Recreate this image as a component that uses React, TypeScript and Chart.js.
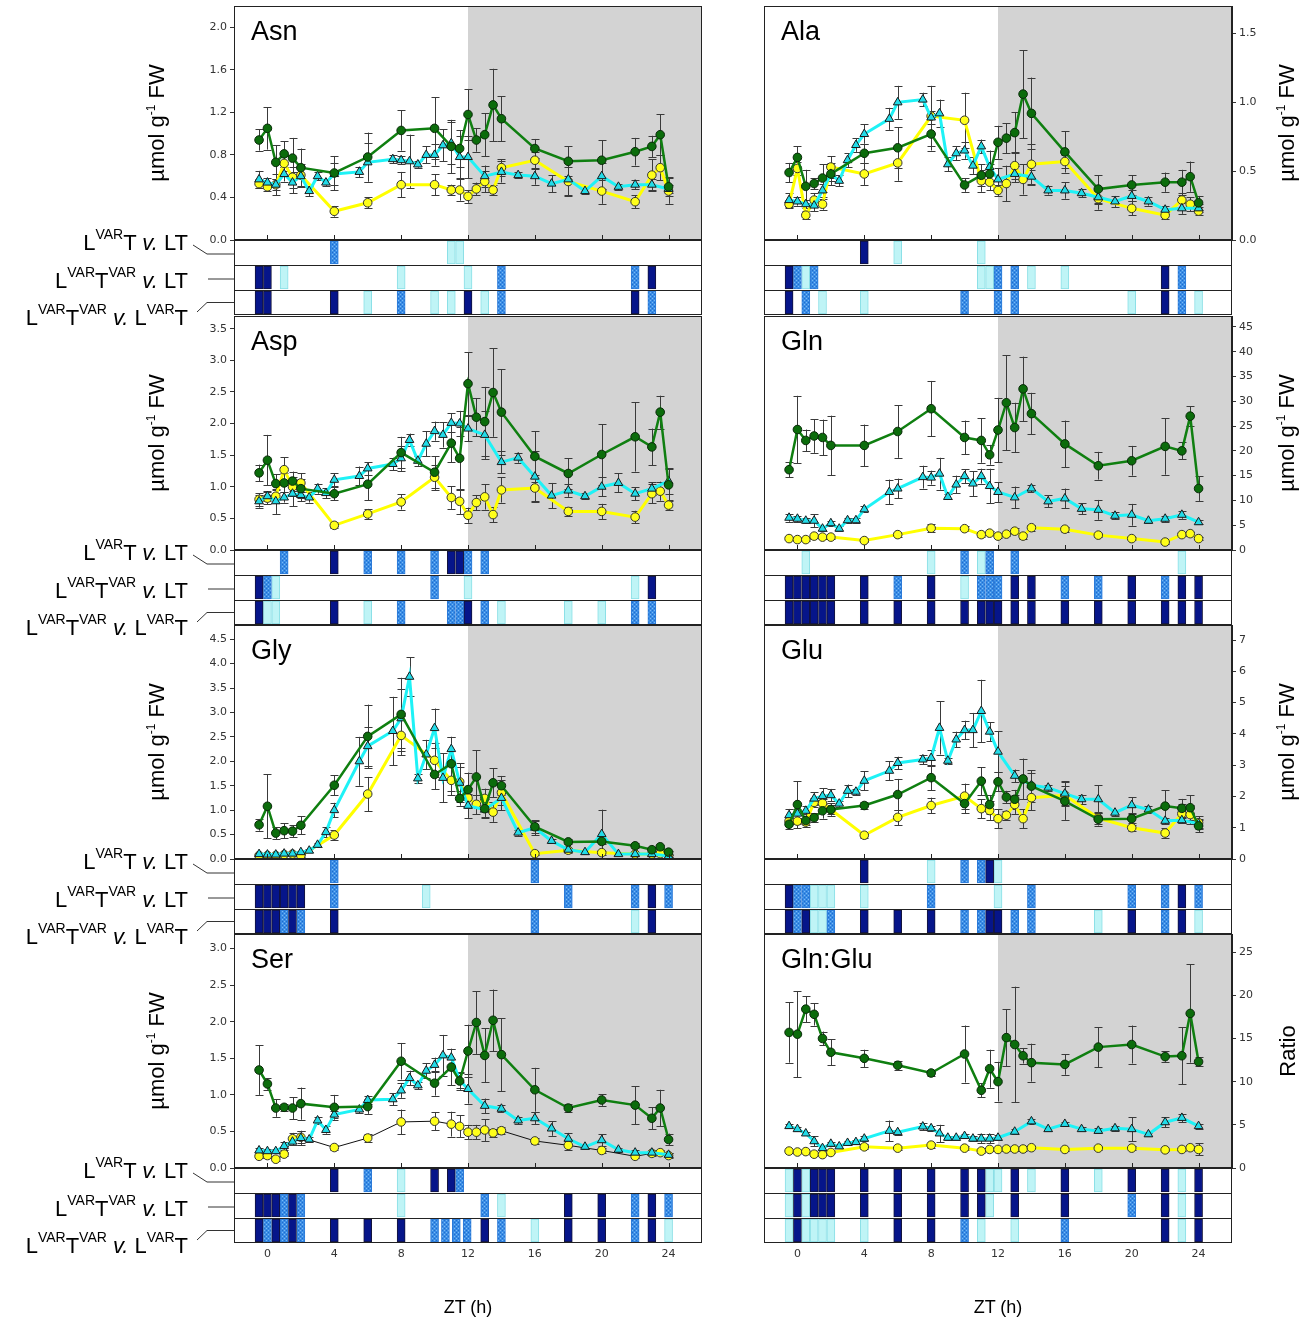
import React, { useEffect, useRef } from 'react';
import { Chart, registerables } from 'chart.js';

Chart.register(...registerables);

// ---------------- axes ----------------
const X_MIN = -2;
const X_MAX = 26;
const X_TICKS = [0, 4, 8, 12, 16, 20, 24];
const NIGHT_START = 12;

// sampling times (h, ZT)
const T_G = [-0.5, 0, 0.5, 1, 1.5, 2, 4, 6, 8, 10, 11, 11.5, 12, 12.5, 13, 13.5, 14, 16, 18, 20, 22, 23, 23.5, 24];
const T_C = [-0.5, 0, 0.5, 1, 1.5, 2, 2.5, 3, 3.5, 4, 5.5, 6, 7.5, 8, 8.5, 9, 9.5, 10, 10.5, 11, 11.5, 12, 13, 14, 15, 16, 17, 18, 19, 20, 21, 22, 23, 24];

// ---------------- Asn ----------------
const ASN_TICKS = [0, 0.4, 0.8, 1.2, 1.6, 2.0];
const ASN_G = [0.94, 1.05, 0.73, 0.81, 0.77, 0.68, 0.63, 0.78, 1.03, 1.05, 0.88, 0.86, 1.18, 0.94, 0.99, 1.27, 1.14, 0.86, 0.74, 0.75, 0.83, 0.88, 0.99, 0.50];
const ASN_G_E = [0.1, 0.2, 0.16, 0.12, 0.19, 0.18, 0.16, 0.23, 0.19, 0.29, 0.25, 0.17, 0.24, 0.11, 0.2, 0.34, 0.21, 0.09, 0.14, 0.19, 0.13, 0.1, 0.19, 0.09];
const ASN_Y = [0.53, 0.50, 0.52, 0.72, 0.59, 0.61, 0.27, 0.35, 0.52, 0.52, 0.47, 0.47, 0.41, 0.48, 0.55, 0.47, 0.68, 0.75, 0.55, 0.46, 0.36, 0.61, 0.68, 0.46];
const ASN_Y_E = [0.04, 0.04, 0.05, 0.07, 0.1, 0.1, 0.05, 0.05, 0.12, 0.1, 0.05, 0.1, 0.06, 0.06, 0.1, 0.05, 0.08, 0.08, 0.14, 0.12, 0.06, 0.15, 0.12, 0.12];
const ASN_C = [0.57, 0.54, 0.52, 0.62, 0.54, 0.60, 0.46, 0.60, 0.54, 0.62, 0.64, 0.73, 0.76, 0.75, 0.74, 0.71, 0.80, 0.80, 0.89, 0.91, 0.78, 0.78, 0.60, 0.64, 0.61, 0.60, 0.53, 0.57, 0.46, 0.60, 0.50, 0.52, 0.52, 0.48];
const ASN_C_E = [0.08, 0.04, 0.1, 0.07, 0.1, 0.1, 0.05, 0.04, 0.03, 0.1, 0.05, 0.18, 0.04, 0.04, 0.25, 0.03, 0.08, 0.1, 0.15, 0.2, 0.2, 0.2, 0.1, 0.1, 0.03, 0.08, 0.08, 0.15, 0.03, 0.12, 0.03, 0.04, 0.05, 0.04];
const ASN_S1 = [[4, 'm'], [11, 'l'], [11.5, 'l']];
const ASN_S2 = [[-0.5, 'd'], [0, 'd'], [1, 'l'], [8, 'l'], [12, 'l'], [14, 'm'], [22, 'm'], [23, 'd']];
const ASN_S3 = [[-0.5, 'd'], [0, 'd'], [4, 'd'], [6, 'l'], [8, 'm'], [10, 'l'], [11, 'l'], [12, 'd'], [13, 'l'], [14, 'm'], [22, 'd'], [23, 'm']];

// ---------------- Ala ----------------
const ALA_TICKS = [0, 0.5, 1.0, 1.5];
const ALA_G = [0.49, 0.60, 0.39, 0.41, 0.45, 0.48, 0.63, 0.67, 0.77, 0.40, 0.47, 0.48, 0.71, 0.74, 0.78, 1.06, 0.92, 0.64, 0.37, 0.40, 0.42, 0.42, 0.46, 0.27];
const ALA_G_E = [0.07, 0.08, 0.12, 0.04, 0.1, 0.08, 0.07, 0.15, 0.12, 0.05, 0.08, 0.07, 0.12, 0.11, 0.15, 0.32, 0.26, 0.15, 0.1, 0.07, 0.07, 0.09, 0.11, 0.05];
const ALA_Y = [0.26, 0.52, 0.18, 0.29, 0.26, 0.53, 0.48, 0.56, 0.90, 0.87, 0.43, 0.42, 0.36, 0.41, 0.54, 0.44, 0.55, 0.57, 0.30, 0.23, 0.18, 0.29, 0.26, 0.21];
const ALA_Y_E = [0.03, 0.05, 0.03, 0.05, 0.04, 0.08, 0.08, 0.13, 0.22, 0.2, 0.08, 0.06, 0.04, 0.13, 0.1, 0.11, 0.15, 0.05, 0.08, 0.05, 0.03, 0.05, 0.05, 0.03];
const ALA_C = [0.29, 0.28, 0.26, 0.25, 0.36, 0.48, 0.43, 0.58, 0.69, 0.77, 0.88, 1.00, 1.02, 0.89, 0.92, 0.55, 0.63, 0.65, 0.54, 0.68, 0.53, 0.44, 0.48, 0.46, 0.36, 0.36, 0.34, 0.31, 0.28, 0.32, 0.28, 0.22, 0.23, 0.23];
const ALA_C_E = [0.05, 0.03, 0.03, 0.04, 0.05, 0.05, 0.04, 0.05, 0.05, 0.07, 0.08, 0.12, 0.05, 0.05, 0.1, 0.05, 0.05, 0.06, 0.06, 0.05, 0.12, 0.08, 0.06, 0.05, 0.03, 0.06, 0.03, 0.05, 0.04, 0.04, 0.03, 0.03, 0.04, 0.03];
const ALA_S1 = [[4, 'd'], [6, 'l'], [11, 'l']];
const ALA_S2 = [[-0.5, 'd'], [0, 'm'], [0.5, 'l'], [1, 'm'], [11, 'l'], [11.5, 'l'], [12, 'm'], [13, 'm'], [14, 'l'], [16, 'l'], [22, 'd'], [23, 'm']];
const ALA_S3 = [[-0.5, 'd'], [0.5, 'm'], [1.5, 'l'], [4, 'l'], [10, 'm'], [12, 'm'], [13, 'm'], [20, 'l'], [22, 'd'], [23, 'm'], [24, 'l']];

// ---------------- Asp ----------------
const ASP_TICKS = [0, 0.5, 1.0, 1.5, 2.0, 2.5, 3.0, 3.5];
const ASP_G = [1.22, 1.42, 1.05, 1.06, 1.09, 0.97, 0.89, 1.04, 1.54, 1.23, 1.69, 1.45, 2.63, 2.10, 2.03, 2.49, 2.18, 1.48, 1.21, 1.51, 1.79, 1.63, 2.18, 1.03];
const ASP_G_E = [0.13, 0.4, 0.15, 0.15, 0.15, 0.15, 0.1, 0.25, 0.25, 0.25, 0.3, 0.5, 0.5, 0.3, 0.55, 0.7, 0.68, 0.4, 0.24, 0.48, 0.55, 0.29, 0.26, 0.25];
const ASP_Y = [0.80, 0.82, 0.85, 1.27, 1.00, 1.06, 0.39, 0.57, 0.76, 1.15, 0.83, 0.77, 0.55, 0.75, 0.84, 0.56, 0.95, 0.98, 0.61, 0.61, 0.52, 0.89, 0.93, 0.71];
const ASP_Y_E = [0.1, 0.1, 0.1, 0.2, 0.15, 0.15, 0.05, 0.08, 0.12, 0.2, 0.18, 0.2, 0.12, 0.12, 0.2, 0.12, 0.2, 0.2, 0.07, 0.12, 0.1, 0.15, 0.15, 0.08];
const ASP_C = [0.77, 0.85, 0.77, 0.83, 0.89, 0.87, 0.83, 0.97, 0.90, 1.11, 1.17, 1.29, 1.36, 1.45, 1.74, 1.41, 1.68, 1.88, 1.82, 2.01, 2.00, 1.92, 1.82, 1.39, 1.46, 1.16, 0.86, 0.94, 0.85, 1.00, 1.06, 0.89, 0.97, 1.09];
const ASP_C_E = [0.1, 0.08, 0.2, 0.08, 0.2, 0.1, 0.08, 0.08, 0.08, 0.1, 0.15, 0.1, 0.1, 0.2, 0.1, 0.08, 0.2, 0.15, 0.2, 0.15, 0.2, 0.2, 0.38, 0.18, 0.08, 0.4, 0.2, 0.1, 0.05, 0.15, 0.15, 0.1, 0.1, 0.2];
const ASP_S1 = [[1, 'm'], [4, 'd'], [6, 'm'], [8, 'm'], [10, 'm'], [11, 'd'], [11.5, 'd'], [12, 'm'], [13, 'm']];
const ASP_S2 = [[-0.5, 'd'], [0, 'm'], [0.5, 'l'], [10, 'm'], [12, 'l'], [22, 'l'], [23, 'd']];
const ASP_S3 = [[-0.5, 'd'], [0, 'l'], [0.5, 'l'], [4, 'd'], [6, 'l'], [8, 'm'], [11, 'm'], [11.5, 'm'], [12, 'd'], [13, 'm'], [14, 'l'], [18, 'l'], [20, 'l'], [22, 'm'], [23, 'm']];

// ---------------- Gln ----------------
const GLN_TICKS = [0, 5, 10, 15, 20, 25, 30, 35, 40, 45];
const GLN_G = [16.2, 24.3, 22.1, 23.0, 22.7, 21.1, 21.1, 23.9, 28.5, 22.7, 22.1, 19.2, 24.2, 29.7, 24.7, 32.5, 27.5, 21.4, 17.0, 18.0, 20.9, 20.0, 27.0, 12.4];
const GLN_G_E = [1.5, 6.8, 2.2, 3.4, 3.6, 6, 4.2, 5.3, 5.6, 3.4, 4.5, 2, 6.5, 9.6, 5, 6.5, 4.2, 4.7, 2.8, 3, 5.7, 1.7, 2, 2.5];
const GLN_Y = [2.3, 2.1, 2.1, 2.8, 2.6, 2.6, 1.9, 3.1, 4.4, 4.3, 3.1, 3.4, 2.8, 3.2, 3.8, 2.8, 4.5, 4.2, 3.0, 2.3, 1.6, 3.1, 3.3, 2.3];
const GLN_Y_E = [0.3, 0.2, 0.2, 0.3, 0.3, 0.3, 0.3, 0.4, 0.8, 0.5, 0.4, 0.4, 0.4, 0.4, 0.6, 0.5, 0.6, 0.5, 0.4, 0.3, 0.3, 0.3, 0.4, 0.3];
const GLN_C = [6.5, 6.3, 5.9, 5.9, 4.3, 5.4, 4.3, 6.0, 6.0, 8.2, 11.7, 12.4, 14.7, 14.6, 15.4, 10.7, 13.2, 14.9, 13.4, 14.9, 12.9, 11.7, 10.6, 12.4, 9.8, 10.4, 8.3, 8.1, 6.9, 7.1, 5.9, 6.3, 7.1, 5.6];
const GLN_C_E = [0.8, 0.6, 0.5, 1.3, 0.5, 0.5, 0.5, 0.5, 0.5, 0.6, 2.5, 2, 2.3, 1.4, 3.2, 0.5, 1.8, 1.4, 2.5, 1.5, 3.5, 2, 2.2, 0.8, 1.2, 2, 1.1, 2, 0.7, 2.2, 0.4, 0.6, 0.8, 0.4];
const GLN_S1 = [[0.5, 'l'], [8, 'l'], [10, 'm'], [11, 'l'], [11.5, 'm'], [13, 'm'], [23, 'l']];
const GLN_S2 = [[-0.5, 'd'], [0, 'd'], [0.5, 'd'], [1, 'd'], [1.5, 'd'], [2, 'd'], [4, 'd'], [6, 'm'], [8, 'd'], [10, 'l'], [11, 'm'], [11.5, 'm'], [12, 'm'], [13, 'd'], [14, 'd'], [16, 'm'], [18, 'm'], [20, 'd'], [22, 'm'], [23, 'd'], [24, 'd']];
const GLN_S3 = [[-0.5, 'd'], [0, 'd'], [0.5, 'd'], [1, 'd'], [1.5, 'd'], [2, 'd'], [4, 'd'], [6, 'd'], [8, 'd'], [10, 'd'], [11, 'd'], [11.5, 'd'], [12, 'd'], [13, 'd'], [14, 'd'], [16, 'd'], [18, 'd'], [20, 'd'], [22, 'd'], [23, 'd'], [24, 'd']];

// ---------------- Gly ----------------
const GLY_TICKS = [0, 0.5, 1.0, 1.5, 2.0, 2.5, 3.0, 3.5, 4.0, 4.5];
const GLY_G = [0.70, 1.08, 0.53, 0.58, 0.57, 0.69, 1.51, 2.51, 2.96, 1.73, 1.95, 1.24, 1.42, 1.68, 1.03, 1.56, 1.50, 0.66, 0.35, 0.36, 0.27, 0.19, 0.25, 0.14];
const GLY_G_E = [0.12, 0.65, 0.12, 0.15, 0.12, 0.18, 0.2, 0.65, 0.75, 0.3, 0.55, 0.15, 0.35, 0.55, 0.2, 0.3, 0.2, 0.12, 0.05, 0.05, 0.05, 0.04, 0.04, 0.03];
const GLY_Y = [0.07, 0.07, 0.07, 0.09, 0.10, 0.07, 0.49, 1.33, 2.53, 2.02, 1.61, 1.58, 1.25, 1.12, 1.24, 0.96, 1.36, 0.11, 0.18, 0.13, 0.10, 0.10, 0.11, 0.07];
const GLY_Y_E = [0.02, 0.02, 0.02, 0.02, 0.02, 0.02, 0.1, 0.35, 0.4, 0.35, 0.3, 0.3, 0.2, 0.2, 0.2, 0.2, 0.25, 0.03, 0.05, 0.04, 0.02, 0.02, 0.03, 0.02];
const GLY_C = [0.10, 0.09, 0.09, 0.11, 0.11, 0.14, 0.17, 0.29, 0.55, 1.00, 2.00, 2.31, 2.62, 2.88, 3.73, 1.65, 2.14, 2.68, 1.66, 2.25, 1.56, 1.09, 1.01, 1.25, 0.54, 0.64, 0.37, 0.19, 0.14, 0.51, 0.10, 0.10, 0.10, 0.06];
const GLY_C_E = [0.02, 0.02, 0.02, 0.02, 0.02, 0.03, 0.03, 0.04, 0.1, 0.15, 0.5, 0.4, 0.7, 0.6, 0.4, 0.1, 0.3, 0.4, 0.5, 0.25, 0.4, 0.25, 0.15, 0.25, 0.06, 0.15, 0.04, 0.04, 0.03, 0.5, 0.02, 0.02, 0.02, 0.02];
const GLY_S1 = [[4, 'm'], [16, 'm']];
const GLY_S2 = [[-0.5, 'd'], [0, 'd'], [0.5, 'd'], [1, 'd'], [1.5, 'd'], [2, 'd'], [4, 'm'], [9.5, 'l'], [18, 'm'], [22, 'm'], [23, 'd'], [24, 'm']];
const GLY_S3 = [[-0.5, 'd'], [0, 'd'], [0.5, 'd'], [1, 'm'], [1.5, 'd'], [2, 'm'], [4, 'd'], [16, 'm'], [22, 'l'], [23, 'd']];

// ---------------- Glu ----------------
const GLU_TICKS = [0, 1, 2, 3, 4, 5, 6, 7];
const GLU_G = [1.11, 1.74, 1.23, 1.32, 1.54, 1.58, 1.71, 2.06, 2.60, 1.77, 2.49, 1.74, 2.47, 1.98, 1.91, 2.56, 2.33, 1.85, 1.27, 1.29, 1.69, 1.62, 1.64, 1.06];
const GLU_G_E = [0.15, 0.75, 0.2, 0.15, 0.25, 0.2, 0.1, 0.5, 0.4, 0.3, 0.45, 0.3, 0.3, 0.2, 0.3, 0.65, 0.5, 0.6, 0.2, 0.15, 0.5, 0.3, 0.4, 0.2];
const GLU_Y = [1.21, 1.21, 1.18, 1.81, 1.78, 1.58, 0.76, 1.33, 1.71, 2.01, 1.61, 1.55, 1.29, 1.40, 1.74, 1.29, 1.96, 2.04, 1.31, 1.00, 0.83, 1.45, 1.42, 1.16];
const GLU_Y_E = [0.1, 0.1, 0.1, 0.15, 0.15, 0.15, 0.1, 0.25, 0.25, 0.4, 0.3, 0.3, 0.3, 0.15, 0.3, 0.3, 0.4, 0.3, 0.2, 0.1, 0.15, 0.3, 0.3, 0.2];
const GLU_C = [1.40, 1.45, 1.54, 1.93, 2.01, 2.04, 1.77, 2.18, 2.15, 2.50, 2.82, 3.07, 3.18, 3.23, 4.19, 3.14, 3.82, 4.12, 4.12, 4.73, 4.07, 3.43, 2.66, 2.36, 2.28, 2.09, 1.91, 1.91, 1.48, 1.72, 1.58, 1.22, 1.24, 1.13];
const GLU_C_E = [0.2, 0.15, 0.15, 0.2, 0.25, 0.2, 0.1, 0.2, 0.1, 0.3, 0.3, 0.2, 0.15, 0.25, 0.85, 0.1, 0.25, 0.3, 0.55, 1.0, 0.3, 0.65, 0.2, 0.4, 0.1, 0.4, 0.15, 0.45, 0.1, 0.25, 0.1, 0.1, 0.1, 0.15];
const GLU_S1 = [[4, 'd'], [8, 'l'], [10, 'm'], [11, 'm'], [11.5, 'd'], [12, 'l']];
const GLU_S2 = [[-0.5, 'd'], [0, 'm'], [0.5, 'm'], [1, 'l'], [1.5, 'l'], [2, 'l'], [4, 'l'], [8, 'm'], [12, 'l'], [14, 'm'], [20, 'm'], [22, 'm'], [23, 'd'], [24, 'm']];
const GLU_S3 = [[-0.5, 'd'], [0, 'm'], [0.5, 'd'], [1, 'l'], [1.5, 'l'], [2, 'm'], [4, 'd'], [6, 'd'], [8, 'd'], [10, 'm'], [11, 'm'], [11.5, 'd'], [12, 'd'], [13, 'm'], [14, 'm'], [18, 'l'], [20, 'd'], [22, 'm'], [23, 'd'], [24, 'l']];

// ---------------- Ser ----------------
const SER_TICKS = [0, 0.5, 1.0, 1.5, 2.0, 2.5, 3.0];
const SER_G = [1.34, 1.15, 0.82, 0.83, 0.82, 0.88, 0.83, 0.84, 1.46, 1.16, 1.38, 1.19, 1.60, 1.99, 1.54, 2.02, 1.55, 1.07, 0.82, 0.93, 0.86, 0.68, 0.82, 0.39];
const SER_G_E = [0.34, 0.08, 0.12, 0.05, 0.15, 0.22, 0.17, 0.1, 0.25, 0.17, 0.25, 0.12, 0.36, 0.43, 0.37, 0.42, 0.5, 0.3, 0.05, 0.08, 0.26, 0.15, 0.25, 0.08];
const SER_Y = [0.16, 0.17, 0.12, 0.19, 0.40, 0.42, 0.28, 0.41, 0.63, 0.64, 0.60, 0.57, 0.49, 0.49, 0.52, 0.48, 0.51, 0.37, 0.31, 0.24, 0.16, 0.20, 0.21, 0.17];
const SER_Y_E = [0.03, 0.03, 0.03, 0.03, 0.08, 0.08, 0.04, 0.06, 0.17, 0.12, 0.17, 0.15, 0.1, 0.1, 0.15, 0.05, 0.05, 0.04, 0.06, 0.04, 0.03, 0.03, 0.03, 0.03];
const SER_C = [0.24, 0.23, 0.23, 0.30, 0.36, 0.41, 0.39, 0.65, 0.52, 0.73, 0.80, 0.93, 0.94, 1.06, 1.23, 1.13, 1.33, 1.41, 1.54, 1.51, 1.20, 1.08, 0.85, 0.81, 0.65, 0.68, 0.54, 0.40, 0.29, 0.38, 0.25, 0.21, 0.21, 0.18];
const SER_C_E = [0.03, 0.03, 0.03, 0.05, 0.05, 0.1, 0.03, 0.05, 0.05, 0.05, 0.05, 0.05, 0.08, 0.1, 0.1, 0.05, 0.1, 0.1, 0.28, 0.12, 0.1, 0.2, 0.1, 0.05, 0.05, 0.08, 0.1, 0.08, 0.03, 0.08, 0.03, 0.03, 0.03, 0.03];
const SER_S1 = [[4, 'd'], [6, 'm'], [8, 'l'], [10, 'd'], [11, 'd'], [11.5, 'm']];
const SER_S2 = [[-0.5, 'd'], [0, 'd'], [0.5, 'd'], [1, 'm'], [1.5, 'd'], [2, 'm'], [8, 'l'], [13, 'm'], [14, 'l'], [18, 'd'], [20, 'd'], [22, 'm'], [23, 'd'], [24, 'm']];
const SER_S3 = [[-0.5, 'd'], [0, 'm'], [0.5, 'd'], [1, 'm'], [1.5, 'd'], [2, 'm'], [4, 'd'], [6, 'd'], [8, 'd'], [10, 'm'], [10.65, 'm'], [11.3, 'm'], [11.95, 'm'], [13, 'd'], [14, 'm'], [16, 'l'], [18, 'd'], [20, 'd'], [22, 'm'], [23, 'd'], [24, 'l']];

// ---------------- Gln:Glu ----------------
const GG_TICKS = [0, 5, 10, 15, 20, 25];
const GG_G = [15.7, 15.5, 18.4, 17.8, 15.0, 13.4, 12.7, 11.9, 11.0, 13.2, 9.0, 11.5, 10.0, 15.1, 14.3, 13.0, 12.2, 12.0, 14.0, 14.3, 12.9, 13.0, 17.9, 12.3];
const GG_G_E = [3.5, 5, 1.5, 1.3, 0.8, 1.5, 1, 0.5, 0.4, 3.3, 0.8, 2.2, 2.3, 3.3, 6.7, 0.9, 2.2, 1.2, 2.3, 2.2, 0.6, 3.3, 5.7, 0.5];
const GG_Y = [1.96, 1.85, 1.9, 1.6, 1.55, 1.8, 2.45, 2.3, 2.65, 2.3, 1.96, 2.15, 2.15, 2.2, 2.2, 2.2, 2.35, 2.15, 2.3, 2.3, 2.1, 2.15, 2.35, 2.15];
const GG_Y_E = [0.1, 0.1, 0.1, 0.1, 0.1, 0.1, 0.3, 0.2, 0.3, 0.2, 0.2, 0.2, 0.2, 0.2, 0.2, 0.2, 0.2, 0.2, 0.2, 0.2, 0.1, 0.2, 0.2, 0.7];
const GG_C = [4.85, 4.5, 4.0, 3.1, 2.3, 2.8, 2.5, 2.9, 3.0, 3.4, 4.3, 4.15, 4.8, 4.6, 4.0, 3.5, 3.5, 3.7, 3.4, 3.4, 3.4, 3.5, 4.2, 5.4, 4.5, 5.1, 4.5, 4.3, 4.6, 4.5, 3.9, 5.3, 5.8, 4.85];
const GG_C_E = [0.2, 0.2, 0.2, 0.6, 0.2, 0.2, 0.2, 0.2, 0.2, 0.3, 1.2, 0.3, 0.4, 0.3, 1.0, 0.2, 0.2, 0.2, 0.3, 0.5, 0.5, 0.3, 0.3, 0.3, 0.2, 0.2, 0.2, 0.3, 0.3, 1.4, 0.2, 0.6, 0.5, 0.3];
const GG_S1 = [[-0.5, 'l'], [0, 'd'], [0.5, 'l'], [1, 'd'], [1.5, 'd'], [2, 'd'], [4, 'd'], [6, 'd'], [8, 'd'], [10, 'd'], [11, 'd'], [11.5, 'l'], [12, 'l'], [13, 'd'], [14, 'l'], [16, 'd'], [18, 'l'], [20, 'd'], [22, 'd'], [23, 'l'], [24, 'd']];
const GG_S2 = [[-0.5, 'l'], [0, 'd'], [0.5, 'l'], [1, 'd'], [1.5, 'd'], [2, 'd'], [4, 'd'], [6, 'd'], [8, 'd'], [10, 'd'], [11, 'd'], [11.5, 'l'], [13, 'd'], [16, 'd'], [20, 'm'], [22, 'd'], [23, 'l'], [24, 'd']];
const GG_S3 = [[-0.5, 'l'], [0, 'd'], [0.5, 'l'], [1, 'l'], [1.5, 'l'], [2, 'l'], [4, 'l'], [6, 'd'], [8, 'd'], [10, 'm'], [11, 'l'], [13, 'l'], [16, 'm'], [22, 'd'], [23, 'l'], [24, 'd']];

// ---------------- panels ----------------
type Panel = {
  name: string; col: number; row: number; ymax: number; ticks: number[]; dec: number;
  g: number[]; ge: number[]; c: number[]; ce: number[]; y: number[]; ye: number[];
  strips: any[][]; title: string; blackYellow?: boolean;
};

const PANELS: Panel[] = [
  { name: 'Asn', col: 0, row: 0, ymax: 2.2, ticks: ASN_TICKS, dec: 1, g: ASN_G, ge: ASN_G_E, c: ASN_C, ce: ASN_C_E, y: ASN_Y, ye: ASN_Y_E, strips: [ASN_S1, ASN_S2, ASN_S3], title: 'umol' },
  { name: 'Ala', col: 1, row: 0, ymax: 1.7, ticks: ALA_TICKS, dec: 1, g: ALA_G, ge: ALA_G_E, c: ALA_C, ce: ALA_C_E, y: ALA_Y, ye: ALA_Y_E, strips: [ALA_S1, ALA_S2, ALA_S3], title: 'umol' },
  { name: 'Asp', col: 0, row: 1, ymax: 3.7, ticks: ASP_TICKS, dec: 1, g: ASP_G, ge: ASP_G_E, c: ASP_C, ce: ASP_C_E, y: ASP_Y, ye: ASP_Y_E, strips: [ASP_S1, ASP_S2, ASP_S3], title: 'umol' },
  { name: 'Gln', col: 1, row: 1, ymax: 47.2, ticks: GLN_TICKS, dec: 0, g: GLN_G, ge: GLN_G_E, c: GLN_C, ce: GLN_C_E, y: GLN_Y, ye: GLN_Y_E, strips: [GLN_S1, GLN_S2, GLN_S3], title: 'umol' },
  { name: 'Gly', col: 0, row: 2, ymax: 4.79, ticks: GLY_TICKS, dec: 1, g: GLY_G, ge: GLY_G_E, c: GLY_C, ce: GLY_C_E, y: GLY_Y, ye: GLY_Y_E, strips: [GLY_S1, GLY_S2, GLY_S3], title: 'umol' },
  { name: 'Glu', col: 1, row: 2, ymax: 7.48, ticks: GLU_TICKS, dec: 0, g: GLU_G, ge: GLU_G_E, c: GLU_C, ce: GLU_C_E, y: GLU_Y, ye: GLU_Y_E, strips: [GLU_S1, GLU_S2, GLU_S3], title: 'umol' },
  { name: 'Ser', col: 0, row: 3, ymax: 3.2, ticks: SER_TICKS, dec: 1, g: SER_G, ge: SER_G_E, c: SER_C, ce: SER_C_E, y: SER_Y, ye: SER_Y_E, strips: [SER_S1, SER_S2, SER_S3], title: 'umol', blackYellow: true },
  { name: 'Gln:Glu', col: 1, row: 3, ymax: 27.1, ticks: GG_TICKS, dec: 0, g: GG_G, ge: GG_G_E, c: GG_C, ce: GG_C_E, y: GG_Y, ye: GG_Y_E, strips: [GG_S1, GG_S2, GG_S3], title: 'ratio' },
];

// ---------------- layout ----------------
const COL_LEFT = [234, 764];
const AREA_W = 468;
const BLOCK_TOP = [6, 316, 625, 934];
const PLOT_H = 234;
const ROW_H = 25;
const AXIS_W = 40;
const PAD = 10;
const FONT = '"Liberation Sans", Arial, Helvetica, sans-serif';
const TICK_FONT = { family: '"DejaVu Sans", Verdana, sans-serif', size: 11 };

const plotDecor = {
  id: 'plotDecor',
  beforeDraw(chart: any) {
    const { ctx, chartArea: a, scales } = chart;
    ctx.save();
    ctx.fillStyle = '#ffffff';
    ctx.fillRect(a.left, a.top, a.width, a.height);
    const xn = scales.x.getPixelForValue(NIGHT_START);
    ctx.fillStyle = '#d3d3d3';
    ctx.fillRect(xn, a.top, a.right - xn, a.height);
    ctx.restore();
  },
  beforeDatasetsDraw(chart: any) {
    const { ctx, scales } = chart;
    const ys = scales.y;
    ctx.save();
    ctx.strokeStyle = '#3a3a3a';
    ctx.lineWidth = 1;
    for (let i = chart.data.datasets.length - 1; i >= 0; i--) {
      const ds: any = chart.data.datasets[i];
      if (!ds.errors) continue;
      const meta = chart.getDatasetMeta(i);
      meta.data.forEach((pt: any, j: number) => {
        const e = ds.errors[j];
        if (!e) return;
        const v = ds.data[j].y;
        const x = Math.round(pt.x) + 0.5;
        const y1 = ys.getPixelForValue(v + e);
        const y2 = ys.getPixelForValue(v - e);
        ctx.beginPath();
        ctx.moveTo(x, y1); ctx.lineTo(x, y2);
        ctx.moveTo(x - 4, Math.round(y1) + 0.5); ctx.lineTo(x + 4, Math.round(y1) + 0.5);
        ctx.moveTo(x - 4, Math.round(y2) + 0.5); ctx.lineTo(x + 4, Math.round(y2) + 0.5);
        ctx.stroke();
      });
    }
    ctx.restore();
  },
  afterDraw(chart: any) {
    const { ctx, chartArea: a, scales } = chart;
    ctx.save();
    ctx.strokeStyle = '#222';
    ctx.lineWidth = 1;
    ctx.strokeRect(a.left + 0.5, a.top + 0.5, a.width - 1, a.height - 1);
    ctx.beginPath();
    X_TICKS.forEach((t) => {
      const x = Math.round(scales.x.getPixelForValue(t)) + 0.5;
      ctx.moveTo(x, a.bottom);
      ctx.lineTo(x, a.bottom - 5);
    });
    ctx.stroke();
    ctx.restore();
  },
};

const stripDecor = {
  id: 'stripDecor',
  beforeDraw(chart: any) {
    const { ctx, chartArea: a } = chart;
    ctx.save();
    ctx.fillStyle = '#ffffff';
    ctx.fillRect(a.left, a.top, a.width, a.height);
    ctx.restore();
  },
  afterDatasetsDraw(chart: any) {
    const { ctx, chartArea: a, scales } = chart;
    ctx.save();
    ctx.strokeStyle = '#222';
    ctx.lineWidth = 1;
    ctx.beginPath();
    for (let r = 0; r <= 3; r++) {
      let y = Math.round(scales.y.getPixelForValue(r)) + 0.5;
      y = Math.min(Math.max(y, a.top + 0.5), a.bottom - 0.5);
      ctx.moveTo(a.left, y); ctx.lineTo(a.right, y);
    }
    ctx.moveTo(a.left + 0.5, a.top); ctx.lineTo(a.left + 0.5, a.bottom);
    ctx.moveTo(a.right - 0.5, a.top); ctx.lineTo(a.right - 0.5, a.bottom);
    ctx.stroke();
    ctx.restore();
  },
};

function makePattern(ctx: CanvasRenderingContext2D) {
  const c = document.createElement('canvas');
  c.width = 4; c.height = 4;
  const g = c.getContext('2d')!;
  g.fillStyle = '#3a8de6'; g.fillRect(0, 0, 4, 4);
  g.fillStyle = '#79b9f5'; g.fillRect(0, 0, 1, 1); g.fillRect(2, 2, 1, 1);
  g.fillStyle = '#1f6ccc'; g.fillRect(2, 0, 1, 1); g.fillRect(0, 2, 1, 1);
  return ctx.createPattern(c, 'repeat');
}

function PlotChart({ p }: { p: Panel }) {
  const ref = useRef<HTMLCanvasElement>(null);
  const right = p.col === 1;
  const left = right ? COL_LEFT[1] : COL_LEFT[0] - AXIS_W;
  const top = BLOCK_TOP[p.row] - PAD;
  const width = AREA_W + AXIS_W;
  const height = PLOT_H + 2 * PAD;
  useEffect(() => {
    const pts = (ts: number[], vs: number[]) => ts.map((t, i) => ({ x: t, y: vs[i] }));
    const chart = new Chart(ref.current!, {
      type: 'line',
      data: {
        datasets: [
          {
            data: pts(T_G, p.g), errors: p.ge,
            borderColor: '#0f7f10', borderWidth: 2.5, tension: 0,
            pointStyle: 'circle', pointRadius: 4.3, pointBackgroundColor: '#0b6c0b',
            pointBorderColor: '#0a2a0a', pointBorderWidth: 1,
          } as any,
          {
            data: pts(T_C, p.c), errors: p.ce,
            borderColor: '#1ef2f6', borderWidth: 3, tension: 0,
            pointStyle: 'triangle', pointRadius: 5, pointBackgroundColor: '#22dbe8',
            pointBorderColor: '#1a1a1a', pointBorderWidth: 1,
          } as any,
          {
            data: pts(T_G, p.y), errors: p.ye,
            borderColor: p.blackYellow ? '#111111' : '#ffff00', borderWidth: p.blackYellow ? 1 : 3, tension: 0,
            pointStyle: 'circle', pointRadius: 4.3, pointBackgroundColor: '#ffff1a',
            pointBorderColor: '#333', pointBorderWidth: 1,
          } as any,
        ],
      },
      options: {
        animation: false,
        responsive: false,
        events: [],
        layout: { autoPadding: false, padding: { top: PAD, bottom: PAD, left: 0, right: 0 } },
        plugins: { legend: { display: false }, tooltip: { enabled: false } },
        scales: {
          x: { type: 'linear', min: X_MIN, max: X_MAX, display: false },
          y: {
            type: 'linear', min: 0, max: p.ymax, position: right ? 'right' : 'left',
            afterFit: (s: any) => { s.width = AXIS_W; },
            afterBuildTicks: (s: any) => { s.ticks = p.ticks.map((v) => ({ value: v })); },
            ticks: { font: TICK_FONT, color: '#333', padding: 3, callback: (v: any) => Number(v).toFixed(p.dec) },
            grid: { drawOnChartArea: false, drawTicks: true, tickLength: 4, color: '#333' },
            border: { display: true, color: '#222' },
          },
        },
      } as any,
      plugins: [plotDecor],
    });
    return () => chart.destroy();
  }, []);
  return <canvas ref={ref} width={width} height={height} style={{ position: 'absolute', left, top, width, height }} />;
}

function StripChart({ p }: { p: Panel }) {
  const ref = useRef<HTMLCanvasElement>(null);
  const bottom = p.row === 3;
  const left = COL_LEFT[p.col];
  const top = BLOCK_TOP[p.row] + PLOT_H;
  const width = AREA_W;
  const height = ROW_H * 3 + (bottom ? 24 : 0);
  useEffect(() => {
    const ctx = ref.current!.getContext('2d')!;
    const pattern = makePattern(ctx);
    const kinds = [
      { code: 'd', bg: '#06158a', border: '#14143a' },
      { code: 'm', bg: pattern, border: '#2b7ad8' },
      { code: 'l', bg: '#bff4f6', border: '#8adfe6' },
    ];
    const chart = new Chart(ref.current!, {
      type: 'bar',
      data: {
        datasets: kinds.map((k) => ({
          data: p.strips.flatMap((row: any[], r: number) =>
            row.filter((m) => m[1] === k.code).map((m) => ({ x: m[0], y: [r + 0.04, r + 0.96] }))),
          backgroundColor: k.bg,
          borderColor: k.border,
          borderWidth: 1,
          borderSkipped: false,
          barThickness: 8,
          grouped: false,
        })) as any,
      },
      options: {
        animation: false,
        responsive: false,
        events: [],
        layout: { autoPadding: false, padding: 0 },
        plugins: { legend: { display: false }, tooltip: { enabled: false } },
        scales: {
          x: {
            type: 'linear', min: X_MIN, max: X_MAX, offset: false, display: bottom, position: 'bottom',
            afterBuildTicks: (s: any) => { s.ticks = X_TICKS.map((v) => ({ value: v })); },
            afterFit: (s: any) => { s.height = bottom ? 24 : 0; },
            grid: { display: false, drawTicks: false, offset: false },
            border: { display: false },
            ticks: { font: TICK_FONT, color: '#333', padding: 5, maxRotation: 0, autoSkip: false },
          },
          y: { type: 'linear', min: 0, max: 3, reverse: true, display: false },
        },
      } as any,
      plugins: [stripDecor],
    });
    return () => chart.destroy();
  }, []);
  return <canvas ref={ref} width={width} height={height} style={{ position: 'absolute', left, top, width, height }} />;
}

const Sup = ({ children, size = 14, raise = 11 }: any) => (
  <span style={{ fontSize: size, position: 'relative', top: -raise }}>{children}</span>
);

const ROW_LABELS = [
  <>L<Sup>VAR</Sup>T <i>v.</i> LT</>,
  <>L<Sup>VAR</Sup>T<Sup>VAR</Sup> <i>v.</i> LT</>,
  <>L<Sup>VAR</Sup>T<Sup>VAR</Sup> <i>v.</i> L<Sup>VAR</Sup>T</>,
];
const ROW_BASE = [245, 283, 320];

export default function App() {
  return (
    <div style={{ position: 'absolute', left: 0, top: 0, width: 1316, height: 1321, overflow: 'hidden', background: '#fff', fontFamily: FONT }}>
      {PANELS.map((p) => <StripChart key={'s' + p.name} p={p} />)}
      {PANELS.map((p) => <PlotChart key={'p' + p.name} p={p} />)}
      {PANELS.map((p) => (
        <div key={'n' + p.name} style={{ position: 'absolute', left: COL_LEFT[p.col] + 17, top: BLOCK_TOP[p.row] + 12, fontSize: 27, lineHeight: '27px', color: '#000', whiteSpace: 'nowrap' }}>{p.name}</div>
      ))}
      {PANELS.map((p) => (
        <div key={'t' + p.name} style={{
          position: 'absolute', left: p.col === 0 ? 158 : 1288, top: BLOCK_TOP[p.row] + PLOT_H / 2,
          transform: 'translate(-50%,-50%) rotate(-90deg)', whiteSpace: 'nowrap', fontSize: 22, lineHeight: '24px', color: '#000',
        }}>
          {p.title === 'ratio' ? 'Ratio' : <>µmol g<Sup size={12} raise={9}>-1</Sup> FW</>}
        </div>
      ))}
      {BLOCK_TOP.map((bt, bi) => ROW_LABELS.map((lab, ri) => (
        <div key={'r' + bi + '-' + ri} style={{ position: 'absolute', left: 0, width: 188, textAlign: 'right', top: bt + ROW_BASE[ri] - 18.6, fontSize: 22, lineHeight: '22px', color: '#000', whiteSpace: 'nowrap' }}>{lab}</div>
      )))}
      <svg width={1316} height={1321} style={{ position: 'absolute', left: 0, top: 0, pointerEvents: 'none' }}>
        {BLOCK_TOP.map((bt, bi) => (
          <g key={'c' + bi} fill="none" stroke="#333" strokeWidth={1}>
            <polyline points={`193,${bt + 239} 207,${bt + 248} 234,${bt + 248}`} />
            <polyline points={`208,${bt + 273} 234,${bt + 273}`} />
            <polyline points={`197,${bt + 306} 207,${bt + 296.5} 234,${bt + 296.5}`} />
          </g>
        ))}
      </svg>
      <div style={{ position: 'absolute', left: 468, top: 1307, transform: 'translate(-50%,-50%)', fontSize: 18, whiteSpace: 'nowrap' }}>ZT (h)</div>
      <div style={{ position: 'absolute', left: 998, top: 1307, transform: 'translate(-50%,-50%)', fontSize: 18, whiteSpace: 'nowrap' }}>ZT (h)</div>
    </div>
  );
}
